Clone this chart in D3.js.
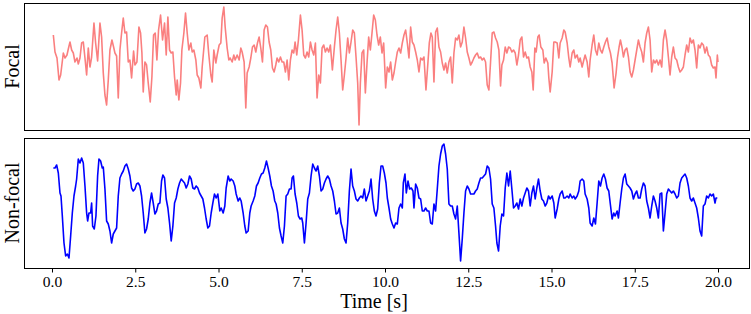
<!DOCTYPE html>
<html>
<head>
<meta charset="utf-8">
<title>Focal / Non-focal</title>
<script src="https://d3js.org/d3.v7.min.js"></script>
<style>
  body { margin: 0; background: #fff; }
  svg text { font-family: "Liberation Serif", "Times New Roman", serif; fill: #000; }
</style>
</head>
<body>
<svg width="751" height="314"></svg>
<script>
// signal traces: [time (s), amplitude (a.u.)]
const focal = [
  [0.04,35],[0.09,18],[0.15,12],[0.21,-10],[0.26,-5],[0.34,17],[0.39,12],[0.45,15],[0.49,21],[0.54,28],
  [0.59,20],[0.64,17],[0.69,8],[0.75,12],[0.79,6],[0.84,12],[0.89,27],[0.94,28],[0.99,12],[1.04,-5],
  [1.09,22],[1.14,3],[1.19,13],[1.26,47],[1.31,27],[1.37,9],[1.44,47],[1.49,33],[1.54,-3],[1.59,-25],
  [1.64,-35],[1.69,-10],[1.74,20],[1.80,30],[1.85,23],[1.89,17],[1.94,14],[1.99,-28],[2.04,20],[2.09,37],
  [2.14,52],[2.19,37],[2.24,38],[2.29,8],[2.34,10],[2.39,-8],[2.45,19],[2.49,5],[2.55,8],[2.61,43],
  [2.66,37],[2.70,17],[2.74,-22],[2.79,8],[2.84,5],[2.89,-13],[2.95,-32],[3.00,-7],[3.05,35],[3.10,37],
  [3.15,10],[3.20,40],[3.26,55],[3.32,30],[3.38,47],[3.43,15],[3.48,53],[3.53,20],[3.58,17],[3.63,18],
  [3.68,-7],[3.73,-25],[3.76,-10],[3.81,-30],[3.86,-13],[3.90,20],[3.96,37],[4.01,57],[4.06,37],[4.11,20],
  [4.17,27],[4.21,18],[4.26,20],[4.32,10],[4.36,-5],[4.41,-8],[4.47,-18],[4.51,3],[4.59,33],[4.66,35],
  [4.71,15],[4.77,-5],[4.81,-12],[4.86,20],[4.92,7],[4.96,15],[5.02,25],[5.07,27],[5.11,52],[5.16,63],
  [5.20,43],[5.26,22],[5.31,10],[5.35,12],[5.41,8],[5.46,15],[5.50,10],[5.56,15],[5.62,10],[5.67,22],
  [5.71,18],[5.77,8],[5.82,-38],[5.86,-3],[5.92,3],[5.97,12],[6.02,23],[6.07,25],[6.12,18],[6.17,27],
  [6.22,33],[6.27,22],[6.32,8],[6.37,40],[6.42,45],[6.47,43],[6.52,28],[6.57,20],[6.62,2],[6.67,-2],
  [6.72,5],[6.76,12],[6.81,8],[6.86,13],[6.91,8],[6.96,8],[7.01,-2],[7.06,10],[7.11,-10],[7.16,10],
  [7.21,20],[7.26,17],[7.30,28],[7.35,15],[7.40,30],[7.46,55],[7.51,40],[7.56,15],[7.61,12],[7.66,18],
  [7.71,13],[7.76,28],[7.81,20],[7.86,15],[7.91,27],[7.96,-28],[8.01,-5],[8.06,-13],[8.11,22],[8.16,25],
  [8.21,18],[8.26,22],[8.31,18],[8.36,25],[8.42,0],[8.48,23],[8.53,40],[8.58,53],[8.63,37],[8.68,10],
  [8.73,-20],[8.78,-5],[8.83,12],[8.88,32],[8.93,17],[8.98,28],[9.03,40],[9.08,37],[9.13,13],[9.18,-13],
  [9.22,-55],[9.26,-13],[9.31,17],[9.36,20],[9.41,-23],[9.46,7],[9.51,33],[9.56,20],[9.61,37],[9.66,55],
  [9.71,50],[9.76,35],[9.81,25],[9.86,33],[9.91,17],[9.96,27],[10.02,-18],[10.07,3],[10.12,-2],[10.17,8],
  [10.22,-10],[10.27,-3],[10.32,8],[10.37,18],[10.42,22],[10.47,17],[10.52,27],[10.57,35],[10.62,40],[10.67,27],
  [10.72,12],[10.77,43],[10.82,28],[10.87,25],[10.92,18],[10.97,10],[11.02,-2],[11.07,12],[11.12,10],[11.17,13],
  [11.23,-20],[11.28,3],[11.33,27],[11.38,37],[11.42,33],[11.47,-12],[11.52,38],[11.57,42],[11.62,23],[11.67,18],
  [11.72,7],[11.77,0],[11.82,7],[11.87,-3],[11.92,8],[11.97,13],[12.02,-13],[12.07,17],[12.12,32],[12.17,30],
  [12.22,35],[12.27,23],[12.32,28],[12.37,43],[12.42,32],[12.47,18],[12.52,12],[12.57,5],[12.62,8],[12.67,12],
  [12.72,15],[12.77,17],[12.82,12],[12.87,13],[12.92,10],[12.97,12],[13.02,8],[13.07,-15],[13.12,-20],[13.17,8],
  [13.22,37],[13.27,38],[13.32,32],[13.37,28],[13.42,20],[13.47,-16],[13.51,5],[13.56,10],[13.61,23],[13.66,17],
  [13.71,23],[13.76,22],[13.81,18],[13.86,20],[13.91,17],[13.96,5],[14.01,15],[14.06,30],[14.11,33],[14.16,13],
  [14.21,18],[14.26,12],[14.31,13],[14.36,3],[14.41,-2],[14.45,-20],[14.50,22],[14.54,18],[14.59,33],[14.63,35],
  [14.68,23],[14.74,20],[14.78,7],[14.83,12],[14.89,7],[14.92,-8],[14.96,-22],[15.02,-2],[15.07,28],[15.11,28],
  [15.17,27],[15.22,12],[15.26,27],[15.32,32],[15.37,40],[15.41,38],[15.47,27],[15.52,12],[15.56,3],[15.62,17],
  [15.67,20],[15.71,12],[15.77,15],[15.82,8],[15.86,12],[15.92,3],[15.97,10],[16.01,15],[16.07,8],[16.12,-7],
  [16.16,10],[16.22,25],[16.27,35],[16.32,20],[16.37,15],[16.42,27],[16.47,20],[16.52,17],[16.57,23],[16.62,28],
  [16.67,32],[16.72,23],[16.77,17],[16.82,7],[16.88,-18],[16.94,-3],[16.98,12],[17.03,23],[17.07,30],[17.12,22],
  [17.16,13],[17.21,20],[17.26,22],[17.31,13],[17.36,-2],[17.41,-7],[17.46,0],[17.51,10],[17.56,20],[17.61,30],
  [17.66,23],[17.71,18],[17.76,8],[17.81,27],[17.86,37],[17.91,43],[17.96,30],[18.01,-2],[18.06,10],[18.11,7],
  [18.16,10],[18.21,5],[18.26,10],[18.31,3],[18.36,30],[18.41,40],[18.46,30],[18.51,13],[18.56,-5],[18.61,13],
  [18.66,23],[18.71,12],[18.76,10],[18.81,3],[18.86,-2],[18.91,0],[18.96,3],[19.01,15],[19.06,25],[19.11,18],
  [19.16,32],[19.21,27],[19.26,30],[19.31,20],[19.36,2],[19.41,25],[19.46,22],[19.51,27],[19.56,25],[19.61,17],
  [19.66,23],[19.71,15],[19.76,13],[19.81,5],[19.86,2],[19.91,3],[19.94,-8],[19.98,15],[20.00,8]
];

const nonFocal = [
  [0.04,35],[0.09,35],[0.14,38],[0.19,30],[0.24,10],[0.27,7],[0.31,-13],[0.36,-40],[0.41,-53],[0.46,-51],
  [0.51,-55],[0.56,-33],[0.61,-10],[0.66,7],[0.71,17],[0.74,24],[0.79,44],[0.84,40],[0.89,45],[0.94,40],
  [0.99,17],[1.04,-10],[1.07,-18],[1.11,-10],[1.16,-10],[1.19,0],[1.22,-23],[1.27,-26],[1.32,-13],[1.37,27],
  [1.41,44],[1.46,42],[1.51,35],[1.54,36],[1.59,14],[1.64,-18],[1.69,-21],[1.74,-28],[1.79,-40],[1.84,-31],
  [1.89,-28],[1.94,-25],[1.99,7],[2.04,25],[2.09,29],[2.14,32],[2.19,37],[2.24,39],[2.29,34],[2.34,27],
  [2.39,15],[2.44,12],[2.49,14],[2.54,19],[2.59,20],[2.64,17],[2.69,7],[2.74,-10],[2.79,-30],[2.84,-26],
  [2.89,-16],[2.94,0],[2.99,10],[3.04,0],[3.09,-11],[3.14,-8],[3.19,-1],[3.24,0],[3.29,22],[3.33,28],
  [3.38,25],[3.43,4],[3.48,-5],[3.53,-20],[3.58,-38],[3.63,-23],[3.68,0],[3.73,5],[3.78,14],[3.83,20],
  [3.88,24],[3.93,22],[3.98,20],[4.03,15],[4.08,19],[4.13,27],[4.18,24],[4.23,15],[4.28,14],[4.33,17],
  [4.38,15],[4.43,10],[4.48,7],[4.53,4],[4.58,-5],[4.63,-16],[4.68,-25],[4.73,-23],[4.78,-10],[4.83,0],
  [4.88,9],[4.93,5],[4.98,9],[5.04,-8],[5.08,-5],[5.14,-10],[5.19,-3],[5.23,15],[5.29,27],[5.34,22],
  [5.38,24],[5.44,22],[5.49,17],[5.53,9],[5.59,2],[5.64,5],[5.68,2],[5.74,-10],[5.79,-23],[5.83,-30],
  [5.89,-28],[5.94,-10],[5.98,-3],[6.04,2],[6.09,7],[6.14,17],[6.19,20],[6.24,25],[6.29,29],[6.34,30],
  [6.39,35],[6.44,42],[6.49,35],[6.54,27],[6.59,17],[6.64,12],[6.69,2],[6.73,-1],[6.78,-10],[6.83,-25],
  [6.88,-33],[6.93,-40],[6.98,-23],[7.03,7],[7.08,9],[7.13,14],[7.18,14],[7.21,25],[7.25,27],[7.30,9],
  [7.35,0],[7.40,-13],[7.45,-16],[7.50,-15],[7.53,-20],[7.58,-40],[7.63,-20],[7.68,4],[7.73,10],[7.78,27],
  [7.83,39],[7.88,35],[7.93,32],[7.98,37],[8.03,27],[8.08,12],[8.13,14],[8.18,20],[8.23,24],[8.28,27],
  [8.33,24],[8.38,17],[8.43,12],[8.48,2],[8.53,-11],[8.58,-10],[8.63,-5],[8.68,-20],[8.73,-26],[8.78,-36],
  [8.83,-40],[8.88,-20],[8.93,12],[8.98,34],[9.03,17],[9.08,12],[9.13,4],[9.18,2],[9.23,5],[9.28,7],
  [9.33,5],[9.38,14],[9.43,2],[9.48,7],[9.53,12],[9.58,24],[9.63,4],[9.68,-8],[9.73,-13],[9.78,-6],
  [9.83,20],[9.88,37],[9.93,37],[9.98,30],[10.03,20],[10.07,5],[10.12,-5],[10.17,-16],[10.22,-21],[10.27,-25],
  [10.32,-20],[10.37,-21],[10.42,-5],[10.47,-1],[10.52,-5],[10.55,20],[10.60,29],[10.64,10],[10.69,22],[10.74,14],
  [10.79,15],[10.84,12],[10.87,-5],[10.92,19],[10.97,15],[11.02,5],[11.07,4],[11.12,-8],[11.17,-8],[11.22,-5],
  [11.27,-8],[11.32,-8],[11.37,-20],[11.42,-21],[11.47,-1],[11.52,-8],[11.57,14],[11.62,37],[11.67,49],[11.72,57],
  [11.77,59],[11.82,49],[11.87,34],[11.92,-1],[11.97,-3],[12.02,-3],[12.07,-11],[12.12,-16],[12.17,-3],[12.22,-30],
  [12.27,-58],[12.32,-36],[12.37,-10],[12.42,12],[12.47,17],[12.52,14],[12.57,9],[12.62,9],[12.67,9],[12.72,12],
  [12.77,14],[12.82,20],[12.87,25],[12.92,25],[12.97,27],[13.02,29],[13.07,37],[13.12,35],[13.17,24],[13.22,-1],
  [13.27,-5],[13.32,-23],[13.36,-40],[13.41,-48],[13.46,-23],[13.51,-11],[13.56,-13],[13.61,15],[13.66,30],[13.71,17],
  [13.76,32],[13.81,14],[13.86,-5],[13.91,-3],[13.96,0],[14.01,-6],[14.06,4],[14.11,-3],[14.16,5],[14.21,10],
  [14.26,15],[14.31,12],[14.36,-3],[14.41,10],[14.46,17],[14.51,4],[14.56,15],[14.61,24],[14.66,12],[14.71,4],
  [14.76,2],[14.81,-3],[14.86,0],[14.91,7],[14.96,4],[15.02,7],[15.07,0],[15.11,-15],[15.17,-6],[15.22,4],
  [15.26,9],[15.32,12],[15.37,5],[15.41,5],[15.47,7],[15.52,5],[15.56,9],[15.62,5],[15.67,7],[15.71,4],
  [15.77,7],[15.82,12],[15.86,22],[15.92,24],[15.97,22],[16.01,9],[16.07,4],[16.12,-5],[16.16,-20],[16.22,-23],
  [16.27,-15],[16.32,-21],[16.37,0],[16.42,22],[16.47,17],[16.52,25],[16.57,29],[16.62,24],[16.67,15],[16.72,12],
  [16.77,-2],[16.82,-16],[16.87,-10],[16.91,-13],[16.97,-8],[17.01,-15],[17.06,0],[17.11,14],[17.16,25],[17.21,29],
  [17.26,19],[17.31,17],[17.36,15],[17.41,12],[17.46,4],[17.51,9],[17.56,12],[17.61,5],[17.66,5],[17.71,14],
  [17.76,20],[17.81,17],[17.86,2],[17.91,-5],[17.96,-15],[18.01,-3],[18.06,7],[18.11,2],[18.16,-5],[18.21,-15],
  [18.26,9],[18.31,10],[18.36,-28],[18.41,-10],[18.46,9],[18.51,14],[18.56,12],[18.61,10],[18.66,12],[18.71,9],
  [18.76,5],[18.81,7],[18.86,20],[18.91,25],[18.96,27],[19.01,29],[19.06,25],[19.11,17],[19.16,5],[19.21,2],
  [19.26,5],[19.31,0],[19.36,-5],[19.41,-15],[19.46,-28],[19.51,-33],[19.56,-3],[19.61,-1],[19.66,7],[19.71,5],
  [19.76,9],[19.81,7],[19.86,9],[19.91,0],[19.94,5],[19.98,5]
];

const xTicks = [0, 2.5, 5, 7.5, 10, 12.5, 15, 17.5, 20];
const panelNames = ["Focal", "Non-focal"];
const lineColors = ["#fa7f7f", "#0000ff"];

const svg = d3.select("svg");
const frameLeft = 24, frameRight = 750;

const x = d3.scaleLinear().domain([0, 20]).range([52, 718]);

const panels = [
  { data: focal, top: 3, bottom: 130, yDomain: [-60, 67] },
  { data: nonFocal, top: 138, bottom: 268, yDomain: [-65, 65] }
];

panels.forEach(function(p, i) {
  const y = d3.scaleLinear().domain(p.yDomain).range([p.bottom, p.top]);

  const line = d3.line()
    .x(function(d) { return x(d[0]); })
    .y(function(d) { return y(d[1]); });

  svg.append("path")
    .datum(p.data)
    .attr("fill", "none")
    .attr("stroke", lineColors[i])
    .attr("stroke-width", 1.6)
    .attr("stroke-linejoin", "round")
    .attr("d", line);

  svg.append("rect")
    .attr("x", frameLeft + 0.5)
    .attr("y", p.top + 0.5)
    .attr("width", frameRight - frameLeft - 1)
    .attr("height", p.bottom - p.top)
    .attr("fill", "none")
    .attr("stroke", "#000")
    .attr("stroke-width", 1);

  svg.append("text")
    .attr("transform", "translate(19," + ((p.top + p.bottom) / 2) + ") rotate(-90)")
    .attr("text-anchor", "middle")
    .style("font-size", "20px")
    .text(panelNames[i]);
});

// x axis under the lower panel
const xAxis = d3.axisBottom(x)
  .tickValues(xTicks)
  .tickFormat(d3.format(".1f"))
  .tickSize(4)
  .tickPadding(3);

const gx = svg.append("g")
  .attr("transform", "translate(0," + (panels[1].bottom + 0.5) + ")")
  .call(xAxis);
gx.select(".domain").remove();
gx.selectAll("text")
  .style("font-size", "15.5px")
  .style("font-family", "'Liberation Serif', 'Times New Roman', serif");

svg.append("text")
  .attr("x", 374)
  .attr("y", 308)
  .attr("text-anchor", "middle")
  .style("font-size", "20px")
  .text("Time [s]");
</script>
</body>
</html>
